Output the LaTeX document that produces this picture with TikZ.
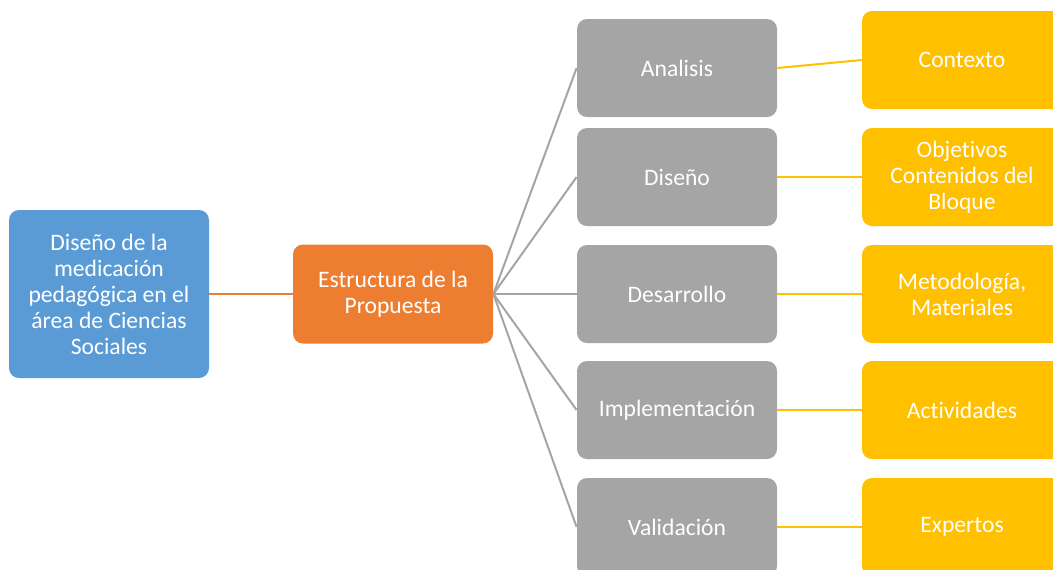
\documentclass[tikz,border=0pt]{standalone}
\usepackage{fontspec}
\setmainfont{Carlito}[Ligatures={NoCommon,NoContextual,NoRare}, Contextuals=NoAlternate]
\usepackage{tikz}

\definecolor{azul}{HTML}{5B9BD5}
\definecolor{naranja}{HTML}{ED7D31}
\definecolor{gris}{HTML}{A5A5A5}
\definecolor{amarillo}{HTML}{FFC000}

\tikzset{
    caja/.style={rounded corners=5pt, text=white, align=center, inner sep=2pt,
        minimum width=100pt, font=\fontsize{11.8}{13}\selectfont},
    fase/.style={caja, fill=gris, minimum height=49pt},
    detalle/.style={caja, fill=amarillo, minimum height=49pt},
}

\begin{document}
\begin{tikzpicture}[x=0.5pt, y=-0.5pt]
    \useasboundingbox (0, 0) rectangle (1053, 569);
    \clip (0, 0) rectangle (1053, 569);

    \node[caja, fill=azul, minimum height=84pt] (tema) at (109, 294)
        {Diseño de la\\medicación\\pedagógica en el\\área de Ciencias\\Sociales};
    \node[caja, fill=naranja, minimum height=49.5pt] (estructura) at (393, 294)
        {Estructura de la\\Propuesta};

    \node[fase] (analisis) at (677, 68) {Analisis};
    \node[fase] (diseno) at (677, 177) {Diseño};
    \node[fase] (desarrollo) at (677, 294) {Desarrollo};
    \node[fase] (implementacion) at (677, 410) {Implementación};
    \node[fase] (validacion) at (677, 527) {Validación};

    \node[detalle] (contexto) at (962, 60) {Contexto};
    \node[detalle] (objetivos) at (962, 177) {Objetivos\\Contenidos del\\Bloque};
    \node[detalle] (metodologia) at (962, 294) {Metodología,\\Materiales};
    \node[detalle] (actividades) at (962, 410) {Actividades};
    \node[detalle] (expertos) at (962, 527) {Expertos};

    \draw[naranja, line width=1.2pt] (tema.east) -- (estructura.west);

    \draw[gris, line width=1pt] (estructura.east) -- (analisis.west);
    \draw[gris, line width=1pt] (estructura.east) -- (diseno.west);
    \draw[gris, line width=1pt] (estructura.east) -- (desarrollo.west);
    \draw[gris, line width=1pt] (estructura.east) -- (implementacion.west);
    \draw[gris, line width=1pt] (estructura.east) -- (validacion.west);

    \draw[amarillo, line width=1pt] (analisis.east) -- (contexto.west);
    \draw[amarillo, line width=1pt] (diseno.east) -- (objetivos.west);
    \draw[amarillo, line width=1pt] (desarrollo.east) -- (metodologia.west);
    \draw[amarillo, line width=1pt] (implementacion.east) -- (actividades.west);
    \draw[amarillo, line width=1pt] (validacion.east) -- (expertos.west);

\end{tikzpicture}
\end{document}
